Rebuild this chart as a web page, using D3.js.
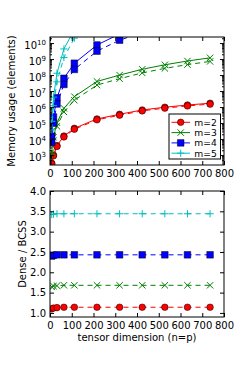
<!DOCTYPE html>
<html>
<head>
<meta charset="utf-8">
<script src="https://cdnjs.cloudflare.com/ajax/libs/d3/7.8.5/d3.min.js"></script>
<style>
  body { margin: 0; background: #fff; }
  svg { display: block; font-family: "DejaVu Sans", sans-serif; }
</style>
</head>
<body>
<svg id="chart"></svg>
<script>
//tensor dimension (n=p) of every run
const dims = [8, 16, 32, 64, 112, 216, 320, 424, 528, 632, 736]
const orders = ['m=2', 'm=3', 'm=4', 'm=5']

//memory usage of the dense storage (solid lines)
const denseM2 = [310, 1000, 3900, 15500, 47000, 182000, 355000, 660000, 980000, 1350000, 1740000]
const denseM3 = [1600, 13000, 105000, 840000, 4500000, 40000000, 100000000, 230000000, 440000000, 760000000, 1200000000]
const denseM4 = [15000, 240000, 3800000, 63000000, 550000000, 7600000000, 37000000000, 110000000000, 270000000000, 560000000000, 1000000000000]
const denseM5 = [130000, 4200000, 130000000, 4300000000, 70000000000, 1900000000000, 12000000000000, 46000000000000, 135000000000000, 330000000000000, 720000000000000]

//memory usage of the BCSS storage (dashed lines)
const bcssM2 = [282, 893, 3450, 13600, 41200, 160000, 311000, 579000, 860000, 1180000, 1530000]
const bcssM3 = [980, 7800, 63000, 500000, 2680000, 23800000, 59500000, 137000000, 262000000, 452000000, 714000000]
const bcssM4 = [6250, 99000, 1560000, 26000000, 226000000, 3130000000, 15200000000, 45300000000, 111000000000, 230000000000, 412000000000]
const bcssM5 = [38000, 1220000, 37800000, 1250000000, 20300000000, 552000000000, 3500000000000, 13400000000000, 39000000000000, 96000000000000, 210000000000000]

//dense / BCSS ratio
const ratioM2 = [1.10, 1.12, 1.13, 1.14, 1.14, 1.14, 1.14, 1.14, 1.14, 1.14, 1.14]
const ratioM3 = [1.64, 1.66, 1.67, 1.68, 1.68, 1.68, 1.68, 1.68, 1.68, 1.68, 1.68]
const ratioM4 = [2.40, 2.42, 2.43, 2.43, 2.43, 2.43, 2.43, 2.43, 2.43, 2.43, 2.43]
const ratioM5 = [3.42, 3.43, 3.44, 3.44, 3.44, 3.44, 3.44, 3.44, 3.44, 3.44, 3.44]

//tick labels
const xTicks = [0, 100, 200, 300, 400, 500, 600, 700, 800]
const memTicks = [1e3, 1e4, 1e5, 1e6, 1e7, 1e8, 1e9, 1e10]
const ratioTicks = [1.0, 1.5, 2.0, 2.5, 3.0, 3.5, 4.0]

const colors = ['#ff0000', '#008000', '#0000ff', '#00bfbf']
const markers = ['circle', 'x', 'square', 'plus']
const dense = [denseM2, denseM3, denseM4, denseM5]
const bcss = [bcssM2, bcssM3, bcssM4, bcssM5]
const ratio = [ratioM2, ratioM3, ratioM4, ratioM5]

const width = 249
const height = 374
const left = 50, right = 224
const top1 = 37, bottom1 = 165
const top2 = 191, bottom2 = 317

const svg = d3.select('#chart')
              .attr('width', width)
              .attr('height', height)

svg.append('defs').selectAll('clipPath')
   .data([[top1, bottom1], [top2, bottom2]])
   .join('clipPath')
   .attr('id', (d, i) => 'clip' + i)
   .append('rect')
   .attr('x', left)
   .attr('y', d => d[0])
   .attr('width', right - left)
   .attr('height', d => d[1] - d[0])

//scales
const xScale = d3.scaleLinear().domain([0, 800]).range([left, right])
const memScale = d3.scaleLog().domain([240, 2.4e10]).range([bottom1, top1])
const ratioScale = d3.scaleLinear().domain([0.9, 4.0]).range([bottom2, top2])

const markerPath = (type) => {
    if (type === 'circle') return d3.symbol().type(d3.symbolCircle).size(34)()
    if (type === 'square') return 'M-3.3,-3.3H3.3V3.3H-3.3Z'
    if (type === 'x') return 'M-3.2,-3.2L3.2,3.2M-3.2,3.2L3.2,-3.2'
    return 'M-3.6,0H3.6M0,-3.6V3.6'
}

const drawMarkers = (g, points, i) => {
    const filled = markers[i] === 'circle' || markers[i] === 'square'
    g.selectAll(null)
     .data(points)
     .join('path')
     .attr('transform', d => `translate(${d[0]},${d[1]})`)
     .attr('d', markerPath(markers[i]))
     .attr('fill', filled ? colors[i] : 'none')
     .attr('stroke', filled ? '#000' : colors[i])
     .attr('stroke-width', filled ? 0.5 : 1)
}

const drawSeries = (g, yScale, values, i, dashed) => {
    const points = dims.map((n, k) => [xScale(n), yScale(values[k])])
    g.append('path')
     .attr('d', d3.line()(points))
     .attr('fill', 'none')
     .attr('stroke', colors[i])
     .attr('stroke-width', 1)
     .attr('stroke-dasharray', dashed ? '5,4' : null)
    drawMarkers(g.append('g'), points, i)
}

//top panel: memory usage
const plot1 = svg.append('g').attr('clip-path', 'url(#clip0)')
orders.forEach((m, i) => {
    drawSeries(plot1, memScale, dense[i], i, false)
    drawSeries(plot1, memScale, bcss[i], i, true)
})

//bottom panel: dense / BCSS
const plot2 = svg.append('g').attr('clip-path', 'url(#clip1)')
orders.forEach((m, i) => {
    drawSeries(plot2, ratioScale, ratio[i], i, true)
})

//axes, ticks pointing inward on every side
const frame = (yTop, yBottom, yScale, yTickVals, minorVals) => {
    svg.append('g')
       .attr('transform', `translate(0,${yBottom})`)
       .call(d3.axisBottom(xScale).tickValues(xTicks).tickSize(-4).tickPadding(5).tickFormat(d3.format('d')))
    svg.append('g')
       .attr('transform', `translate(0,${yTop})`)
       .call(d3.axisTop(xScale).tickValues(xTicks).tickSize(-4).tickFormat(''))
    const yl = svg.append('g')
       .attr('transform', `translate(${left},0)`)
       .call(d3.axisLeft(yScale).tickValues(yTickVals).tickSize(-4).tickPadding(4))
    svg.append('g')
       .attr('transform', `translate(${right},0)`)
       .call(d3.axisRight(yScale).tickValues(yTickVals).tickSize(-4).tickFormat(''))
    if (minorVals) {
        svg.append('g')
           .attr('transform', `translate(${left},0)`)
           .call(d3.axisLeft(yScale).tickValues(minorVals).tickSize(-2).tickFormat(''))
        svg.append('g')
           .attr('transform', `translate(${right},0)`)
           .call(d3.axisRight(yScale).tickValues(minorVals).tickSize(-2).tickFormat(''))
    }
    svg.append('rect')
       .attr('x', left).attr('y', yTop)
       .attr('width', right - left).attr('height', yBottom - yTop)
       .attr('fill', 'none').attr('stroke', '#000').attr('stroke-width', 1)
    return yl
}

const minor = []
for (let e = 2; e <= 10; e++) {
    for (let k = 2; k <= 9; k++) {
        const v = k * Math.pow(10, e)
        if (v > 240 && v < 2.4e10) minor.push(v)
    }
}

const yl1 = frame(top1, bottom1, memScale, memTicks, minor)
yl1.selectAll('.tick text')
   .text(null)
   .attr('dy', '0.55em')
   .call(t => {
       t.append('tspan').text('10')
       t.append('tspan').attr('dy', -4.5).attr('font-size', 7).text(d => Math.round(Math.log10(d)))
   })

const yl2 = frame(top2, bottom2, ratioScale, ratioTicks, null)
yl2.selectAll('.tick text').text(d => d.toFixed(1))

svg.selectAll('.domain').remove()
svg.selectAll('.tick line').attr('stroke', '#000')
svg.selectAll('.tick text').attr('font-size', 10).attr('fill', '#000').attr('font-family', '"DejaVu Sans", sans-serif')

//axis titles
svg.append('text')
   .attr('transform', `translate(15,${(top1 + bottom1) / 2}) rotate(-90)`)
   .attr('text-anchor', 'middle')
   .attr('font-size', 10)
   .text('Memory usage (elements)')

svg.append('text')
   .attr('transform', `translate(25.5,${(top2 + bottom2) / 2}) rotate(-90)`)
   .attr('text-anchor', 'middle')
   .attr('font-size', 10)
   .text('Dense / BCSS')

svg.append('text')
   .attr('x', (left + right) / 2)
   .attr('y', 340.5)
   .attr('text-anchor', 'middle')
   .attr('font-size', 10)
   .text('tensor dimension (n=p)')

//legend
const legend = svg.append('g')
legend.append('rect')
      .attr('x', 169).attr('y', 114)
      .attr('width', 51.5).attr('height', 45)
      .attr('fill', '#fff').attr('stroke', '#000').attr('stroke-width', 1)

orders.forEach((m, i) => {
    const y = 122.3 + i * 10.3
    legend.append('line')
          .attr('x1', 171.5).attr('x2', 190)
          .attr('y1', y).attr('y2', y)
          .attr('stroke', colors[i]).attr('stroke-width', 1)
    drawMarkers(legend.append('g'), [[180.7, y]], i)
    legend.append('text')
          .attr('x', 194.3).attr('y', y + 3.4)
          .attr('font-size', 9.2)
          .text(m)
})
</script>
</body>
</html>
